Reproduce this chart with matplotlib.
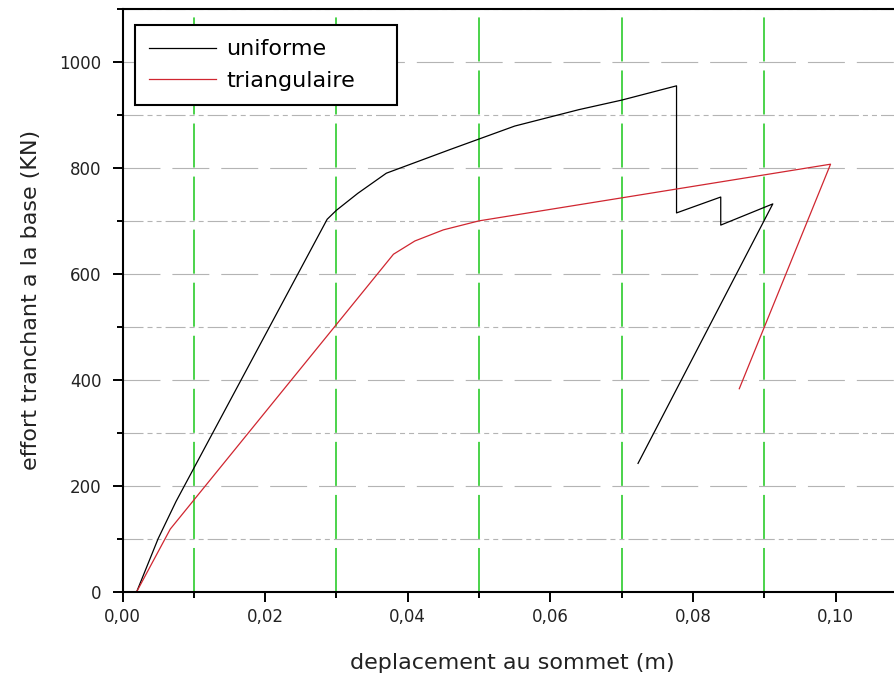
import matplotlib
matplotlib.use("Agg")
import matplotlib.pyplot as plt
from matplotlib.ticker import MultipleLocator, FuncFormatter

# pushover curves: top displacement (m) vs base shear (KN)
uniforme_x = [0.0020, 0.0050, 0.0075, 0.0287, 0.0300, 0.0330, 0.0370, 0.0460,
              0.0550, 0.0640, 0.0700, 0.0777, 0.0777, 0.0839, 0.0839, 0.0912, 0.0723]
uniforme_y = [0, 100, 170, 703, 720, 752, 790, 835,
              879, 910, 928, 955, 715, 745, 692, 732, 242]

triang_x = [0.0020, 0.0067, 0.0380, 0.0410, 0.0450, 0.0500, 0.0993, 0.0865]
triang_y = [0, 118, 637, 662, 683, 700, 807, 383]

labels = ["uniforme", "triangulaire"]

plt.rcParams["lines.scale_dashes"] = False
plt.rcParams["font.family"] = "DejaVu Sans"

fig = plt.figure(figsize=(8.95, 6.8), dpi=100)
ax = fig.add_axes([0.1369, 0.1301, 0.8631, 0.8566])

ax.plot(uniforme_x, uniforme_y, color="black", lw=0.9, label=labels[0])
ax.plot(triang_x, triang_y, color="#d02630", lw=0.9, label=labels[1])

ax.set_xlim(0, 0.10834)
ax.set_ylim(0, 1100)

ax.xaxis.set_major_locator(MultipleLocator(0.02))
ax.xaxis.set_minor_locator(MultipleLocator(0.01))
ax.yaxis.set_major_locator(MultipleLocator(200))
ax.yaxis.set_minor_locator(MultipleLocator(100))
ax.xaxis.set_major_formatter(FuncFormatter(lambda v, p: f"{v:.2f}".replace(".", ",")))
ax.yaxis.set_major_formatter(FuncFormatter(lambda v, p: f"{v:.0f}"))

ax.set_axisbelow(True)
ax.grid(axis="y", which="major", color="#b4b4b4", lw=0.8, linestyle=(0, (26.6, 8.6)))
ax.grid(axis="y", which="minor", color="#b4b4b4", lw=0.8,
        linestyle=(0, (14.4, 2.9, 3.6, 2.9, 3.6, 2.9)))
ax.grid(axis="x", which="minor", color="#2ccc2c", lw=1.2, linestyle=(0, (31.7, 6.5)))

for side in ["left", "bottom", "top"]:
    ax.spines[side].set_linewidth(1.5)
ax.spines["right"].set_visible(False)

ax.tick_params(which="major", direction="out", length=7.2, width=1.4,
               labelsize=12, labelcolor="#222222", pad=5)
ax.tick_params(which="minor", direction="out", length=4.3, width=1.4)
ax.tick_params(axis="y", which="major", pad=8)
ax.tick_params(top=False, right=False, which="both")

ax.set_xlabel("deplacement au sommet (m)", fontsize=16, color="#222222", va="center")
ax.xaxis.set_label_coords(0.505, -0.1227)
ax.set_ylabel("effort tranchant a la base (KN)", fontsize=16, color="#222222",
              ha="center", va="center")
ax.yaxis.set_label_coords(-0.1184, 0.5)

leg = ax.legend(loc="upper left", bbox_to_anchor=(0.0162, 0.5, 0.3388, 0.4725),
                mode="expand", borderaxespad=0, fontsize=16, handlelength=3.0,
                handletextpad=0.45, borderpad=0.64, labelspacing=0.53,
                fancybox=False, framealpha=1, edgecolor="black")
leg.get_frame().set_linewidth(1.5)

fig.savefig("out.png", dpi=100)
